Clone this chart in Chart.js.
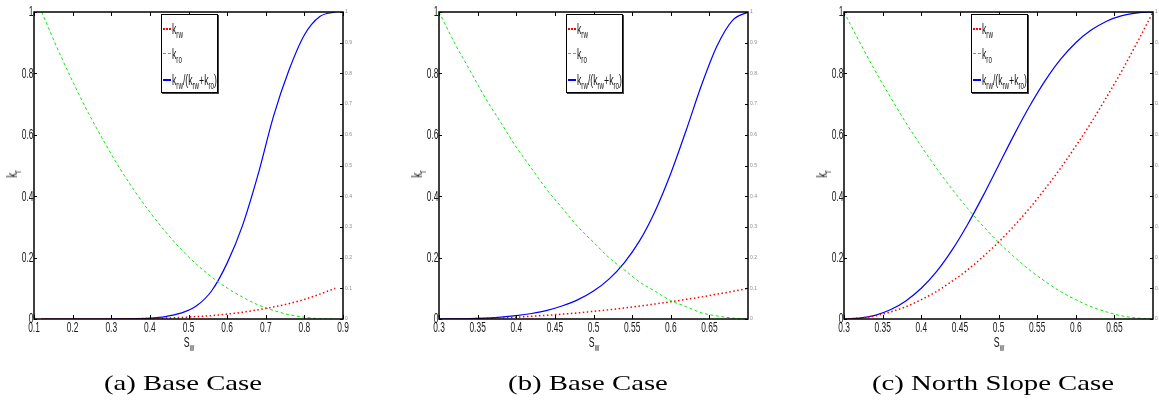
<!DOCTYPE html>
<html>
<head>
<meta charset="utf-8">
<title>Relative permeability and fractional flow</title>
<script src="https://cdn.jsdelivr.net/npm/chart.js@4.4.1/dist/chart.umd.min.js"></script>
<style>
  html, body { margin: 0; padding: 0; background: #fff; }
  body { width: 1159px; height: 403px; position: relative; overflow: hidden; }
  .panel { position: absolute; top: 0; width: 380px; height: 403px; }
  .panel canvas { position: absolute; left: 0; top: 0; }
  .sans { font-family: "Liberation Sans", Arial, sans-serif; color: #111; }
  .narrow { display: inline-block; transform: scaleX(0.62); transform-origin: left center; }
  .ylab { position: absolute; left: 12px; top: 174px; font-size: 14px; line-height: 14px;
          transform: translate(-50%, -50%) rotate(-90deg) scaleX(0.7); white-space: nowrap; }
  .xlab { position: absolute; top: 335px; font-size: 14px; line-height: 14px;
          transform: translateX(-50%) scaleX(0.62); white-space: nowrap; }
  sub { font-size: 10px; vertical-align: -4px; line-height: 0; }
  .legend { position: absolute; top: 14px; width: 55px; height: 77px; border: 1px solid #000;
            box-shadow: 1px 1px 0 #444; background: #fff; overflow: hidden; }
  .legend .row { position: absolute; left: 1px; height: 14px; display: flex; align-items: center;
                 font-size: 14px; white-space: nowrap; }
  .legend .swatch { width: 8px; margin-right: 1px; flex: none; }
  .caption { position: absolute; top: 371px; font-family: "Liberation Serif", serif; font-size: 21px;
             line-height: 24px; white-space: nowrap; color: #000; transform: translateX(-50%) scaleX(1.37); }
</style>
</head>
<body>

<script>
// water saturation samples and curves, base case (a)
const swA  = [0.12, 0.16, 0.20, 0.24, 0.28, 0.32, 0.36, 0.40, 0.44, 0.48, 0.52, 0.56, 0.60, 0.64, 0.68, 0.72, 0.76, 0.80, 0.84, 0.88];
const krwA = [0, 0, 0, 0.0001, 0.0002, 0.0005, 0.001, 0.002, 0.003, 0.005, 0.008, 0.011, 0.016, 0.022, 0.030, 0.039, 0.050, 0.064, 0.081, 0.100];
const kroA = [1, 0.883, 0.774, 0.673, 0.581, 0.495, 0.418, 0.348, 0.285, 0.228, 0.179, 0.137, 0.101, 0.071, 0.046, 0.028, 0.014, 0.006, 0.001, 0];
const fwA  = [0, 0, 0, 0, 0, 0.0003, 0.001, 0.003, 0.008, 0.019, 0.042, 0.092, 0.182, 0.305, 0.47, 0.66, 0.81, 0.925, 0.985, 1];

// base case (b)
const swB  = [0.30, 0.32, 0.34, 0.36, 0.38, 0.40, 0.42, 0.44, 0.46, 0.48, 0.50, 0.52, 0.54, 0.56, 0.58, 0.60, 0.62, 0.64, 0.66, 0.68, 0.70];
const krwB = [0, 0, 0.001, 0.002, 0.004, 0.006, 0.009, 0.012, 0.016, 0.020, 0.025, 0.030, 0.036, 0.042, 0.049, 0.056, 0.064, 0.072, 0.081, 0.090, 0.100];
const kroB = [1, 0.90, 0.81, 0.72, 0.64, 0.56, 0.49, 0.42, 0.36, 0.30, 0.25, 0.20, 0.16, 0.12, 0.09, 0.06, 0.04, 0.02, 0.01, 0.003, 0];
const fwB  = [0, 0.0003, 0.001, 0.003, 0.006, 0.011, 0.018, 0.028, 0.043, 0.063, 0.091, 0.13, 0.184, 0.256, 0.353, 0.474, 0.615, 0.763, 0.89, 0.973, 1];

// North Slope case (c)
const swC  = [0.30, 0.32, 0.34, 0.36, 0.38, 0.40, 0.42, 0.44, 0.46, 0.48, 0.50, 0.52, 0.54, 0.56, 0.58, 0.60, 0.62, 0.64, 0.66, 0.68, 0.70];
const krwC = [0, 0.003, 0.01, 0.023, 0.04, 0.063, 0.09, 0.123, 0.16, 0.203, 0.25, 0.303, 0.36, 0.423, 0.49, 0.563, 0.64, 0.723, 0.81, 0.903, 1];
const kroC = [1, 0.903, 0.81, 0.723, 0.64, 0.563, 0.49, 0.423, 0.36, 0.303, 0.25, 0.203, 0.16, 0.123, 0.09, 0.063, 0.04, 0.023, 0.01, 0.003, 0];
const fwC  = [0, 0.003, 0.012, 0.03, 0.059, 0.1, 0.155, 0.225, 0.308, 0.401, 0.5, 0.599, 0.692, 0.775, 0.845, 0.9, 0.941, 0.97, 0.988, 0.997, 1];

// axis ticks
const xTicksA  = [0.1, 0.2, 0.3, 0.4, 0.5, 0.6, 0.7, 0.8, 0.9];
const xTicksBC = [0.3, 0.35, 0.4, 0.45, 0.5, 0.55, 0.6, 0.65];
const yTicks   = [0, 0.2, 0.4, 0.6, 0.8, 1];
const y2Ticks  = [0, 0.1, 0.2, 0.3, 0.4, 0.5, 0.6, 0.7, 0.8, 0.9, 1];

const legendLabels = ['k<sub>rw</sub>', 'k<sub>ro</sub>', 'k<sub>rw</sub>/(k<sub>rw</sub>+k<sub>ro</sub>)'];
const captions = ['(a) Base Case', '(b) Base Case', '(c) North Slope Case'];

const panels = [
  { left: 0,   sw: swA, krw: krwA, kro: kroA, fw: fwA, xMin: 0.1, xMax: 0.9, xTicks: xTicksA,  caption: captions[0] },
  { left: 405, sw: swB, krw: krwB, kro: kroB, fw: fwB, xMin: 0.3, xMax: 0.7, xTicks: xTicksBC, caption: captions[1] },
  { left: 810, sw: swC, krw: krwC, kro: kroC, fw: fwC, xMin: 0.3, xMax: 0.7, xTicks: xTicksBC, caption: captions[2] }
];

const lineStyles = [
  { color: '#ff0000', width: 1.5, dash: [1.5, 2.5], swatch: 'height:0;border-top:2px dotted #ff0000' },
  { color: '#11e611', width: 1,   dash: [3, 2.5],   swatch: 'height:0;border-top:1px dashed #11e611' },
  { color: '#0000ff', width: 1.2, dash: [],         swatch: 'height:2px;background:#0000ff' }
];

const CANVAS_W = 380, CANVAS_H = 355;
const LEFT_W = 34, RIGHT_W = 37, BOTTOM_H = 36, TOP_PAD = 12;
const fmt = v => String(Math.round(v * 100) / 100);

// draw text squeezed horizontally, like the condensed MATLAB axis font
function narrowText(ctx, text, x, y, sx) {
  ctx.save();
  ctx.translate(x, y);
  ctx.scale(sx, 1);
  ctx.fillText(text, 0, 0);
  ctx.restore();
}

// MATLAB-style box with inward ticks and tick labels
const frameTicks = {
  id: 'frameTicks',
  afterDraw(chart) {
    const { ctx, chartArea: a, scales } = chart;
    const seg = (x1, y1, x2, y2) => { ctx.beginPath(); ctx.moveTo(x1, y1); ctx.lineTo(x2, y2); ctx.stroke(); };
    ctx.save();
    ctx.strokeStyle = '#000';
    ctx.lineWidth = 1;
    scales.x.ticks.forEach(t => {
      const px = Math.round(scales.x.getPixelForValue(t.value)) + 0.5;
      seg(px, a.bottom, px, a.bottom - 4);
      seg(px, a.top, px, a.top + 4);
    });
    scales.y.ticks.forEach(t => {
      const py = Math.round(scales.y.getPixelForValue(t.value)) + 0.5;
      seg(a.left, py, a.left + 3, py);
    });
    scales.y2.ticks.forEach(t => {
      const py = Math.round(scales.y2.getPixelForValue(t.value)) + 0.5;
      seg(a.right, py, a.right - 3, py);
    });
    ctx.lineWidth = 1.5;
    ctx.strokeRect(a.left, a.top, a.right - a.left, a.bottom - a.top);

    // tick labels
    ctx.fillStyle = '#1a1a1a';
    ctx.font = '14px "Liberation Sans", Arial, sans-serif';
    ctx.textAlign = 'center';
    ctx.textBaseline = 'top';
    scales.x.ticks.forEach(t => {
      narrowText(ctx, fmt(t.value), scales.x.getPixelForValue(t.value), a.bottom + 2, 0.6);
    });
    ctx.textAlign = 'right';
    ctx.textBaseline = 'middle';
    scales.y.ticks.forEach(t => {
      narrowText(ctx, fmt(t.value), a.left - 0.5, scales.y.getPixelForValue(t.value) + 0.5, 0.6);
    });
    ctx.fillStyle = '#8a8a8a';
    ctx.font = '5px "Liberation Sans", Arial, sans-serif';
    ctx.textAlign = 'left';
    scales.y2.ticks.forEach(t => {
      ctx.fillText(fmt(t.value), a.right + 2, scales.y2.getPixelForValue(t.value));
    });
    ctx.restore();
  }
};

const hiddenTicks = { display: false };

panels.forEach((p) => {
  const div = document.createElement('div');
  div.className = 'panel';
  div.style.left = p.left + 'px';
  document.body.appendChild(div);

  const canvas = document.createElement('canvas');
  canvas.width = CANVAS_W;
  canvas.height = CANVAS_H;
  div.appendChild(canvas);

  const series = [p.krw, p.kro, p.fw];
  new Chart(canvas, {
    type: 'line',
    data: {
      datasets: series.map((ys, i) => ({
        data: p.sw.map((x, k) => ({ x: x, y: ys[k] })),
        borderColor: lineStyles[i].color,
        borderWidth: lineStyles[i].width,
        borderDash: lineStyles[i].dash,
        pointRadius: 0,
        fill: false,
        cubicInterpolationMode: 'monotone'
      }))
    },
    options: {
      responsive: false,
      animation: false,
      devicePixelRatio: 1,
      layout: { padding: { top: TOP_PAD, left: 0, right: 0, bottom: 0 } },
      plugins: { legend: { display: false }, tooltip: { enabled: false } },
      scales: {
        x: {
          type: 'linear', min: p.xMin, max: p.xMax,
          afterBuildTicks: s => { s.ticks = p.xTicks.map(v => ({ value: v })); },
          afterFit: s => { s.height = BOTTOM_H; },
          grid: { display: false, drawTicks: false },
          border: { display: false },
          ticks: hiddenTicks
        },
        y: {
          position: 'left', min: 0, max: 1,
          afterBuildTicks: s => { s.ticks = yTicks.map(v => ({ value: v })); },
          afterFit: s => { s.width = LEFT_W; },
          grid: { display: false, drawTicks: false },
          border: { display: false },
          ticks: hiddenTicks
        },
        y2: {
          position: 'right', min: 0, max: 1,
          afterBuildTicks: s => { s.ticks = y2Ticks.map(v => ({ value: v })); },
          afterFit: s => { s.width = RIGHT_W; },
          grid: { display: false, drawTicks: false },
          border: { display: false },
          ticks: hiddenTicks
        }
      }
    },
    plugins: [frameTicks]
  });

  const plotW = CANVAS_W - LEFT_W - RIGHT_W;
  const midX = LEFT_W + plotW / 2;

  // legend box, top centre
  const leg = document.createElement('div');
  leg.className = 'legend sans';
  leg.style.left = (midX - 28) + 'px';
  legendLabels.forEach((lab, i) => {
    const row = document.createElement('div');
    row.className = 'row';
    row.style.top = [7, 31.7, 57.7][i] + 'px';
    row.innerHTML = '<span class="swatch" style="' + lineStyles[i].swatch + '"></span><span class="narrow">' + lab + '</span>';
    leg.appendChild(row);
  });
  div.appendChild(leg);

  const ylab = document.createElement('div');
  ylab.className = 'ylab sans';
  ylab.innerHTML = 'k<sub>r</sub>';
  div.appendChild(ylab);

  const xlab = document.createElement('div');
  xlab.className = 'xlab sans';
  xlab.style.left = midX + 'px';
  xlab.innerHTML = 'S<sub>w</sub>';
  div.appendChild(xlab);

  const cap = document.createElement('div');
  cap.className = 'caption';
  cap.style.left = (midX - 6) + 'px';
  cap.textContent = p.caption;
  div.appendChild(cap);
});
</script>
</body>
</html>
